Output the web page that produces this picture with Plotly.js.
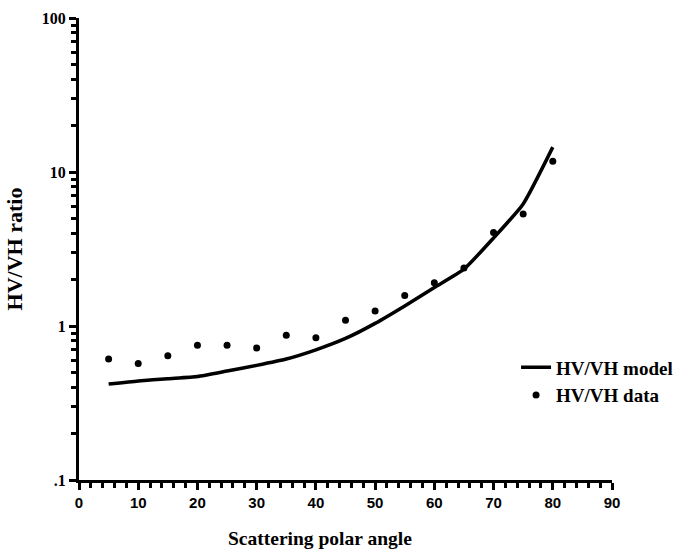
<!DOCTYPE html>
<html>
<head>
<meta charset="utf-8">
<script src="https://cdn.plot.ly/plotly-3.0.1.min.js"></script>
<style>html,body{margin:0;padding:0;background:#fff;}#chart{width:688px;height:552px;}</style>
</head>
<body>
<div id="chart"></div>
<script>
// Data
const modelAngle = [5, 10, 15, 20, 25, 30, 35, 40, 45, 50, 55, 60, 65, 70, 75, 80];
const modelRatio = [0.42, 0.44, 0.455, 0.47, 0.51, 0.555, 0.61, 0.70, 0.83, 1.04, 1.35, 1.78, 2.34, 3.73, 6.2, 14.5];
const dataAngle = [5, 10, 15, 20, 25, 30, 35, 40, 45, 50, 55, 60, 65, 70, 75, 80];
const dataRatio = [0.61, 0.57, 0.64, 0.75, 0.75, 0.72, 0.87, 0.84, 1.09, 1.25, 1.58, 1.91, 2.38, 4.05, 5.34, 11.75];
const yTickVals = [0.1, 1, 10, 100];
const yTickText = [".1", "1", "10", "100"];
const yMinorVals = [0.2, 0.3, 0.4, 0.5, 0.6, 0.7, 0.8, 0.9, 2, 3, 4, 5, 6, 7, 8, 9, 20, 30, 40, 50, 60, 70, 80, 90];
const xTickVals = [0, 10, 20, 30, 40, 50, 60, 70, 80, 90];
const xTickText = ["0", "10", "20", "30", "40", "50", "60", "70", "80", "90"];

const serif = "Liberation Serif, Times New Roman, serif";
const sans = "Liberation Sans, Arial, sans-serif";

const traces = [
  {
    x: modelAngle, y: modelRatio, mode: "lines", name: "<b>HV/VH model</b>",
    line: {color: "#000", width: 3.5, shape: "spline", smoothing: 0.5}
  },
  {
    x: dataAngle, y: dataRatio, mode: "markers", name: "<b>HV/VH data</b>",
    marker: {color: "#000", size: 7, symbol: "circle"}
  }
];

const layout = {
  width: 688, height: 552,
  margin: {l: 79, r: 76, t: 18, b: 72, autoexpand: false},
  paper_bgcolor: "#fff", plot_bgcolor: "#fff",
  showlegend: true,
  legend: {
    x: 0.82, y: 0.285, xanchor: "left", yanchor: "top",
    font: {family: serif, size: 19, color: "#000"},
    bgcolor: "rgba(0,0,0,0)", tracegroupgap: 0, itemwidth: 30
  },
  xaxis: {
    range: [0, 90], tickvals: xTickVals, ticktext: xTickText.map(t => "<b>" + t + "</b>"),
    ticks: "outside", ticklen: 7, tickwidth: 3, automargin: false,
    tickcolor: "#000", showline: true, linecolor: "#000", linewidth: 3,
    showgrid: false, zeroline: false,
    minor: {dtick: 2, ticks: "outside", ticklen: 5, tickwidth: 3, tickcolor: "#000", showgrid: false},
    tickfont: {family: sans, size: 15, color: "#000"}
  },
  yaxis: {
    type: "log", range: [-1, 2], tickvals: yTickVals, ticktext: yTickText.map(t => "<b>" + t + "</b>"),
    ticks: "outside", ticklen: 7, tickwidth: 3, tickcolor: "#000", automargin: false,
    showline: true, linecolor: "#000", linewidth: 3, showgrid: false, zeroline: false,
    minor: {tickvals: yMinorVals, ticks: "outside", ticklen: 5, tickwidth: 3, tickcolor: "#000", showgrid: false},
    tickfont: {family: serif, size: 16, color: "#000"},
    title: {text: "<b>HV/VH ratio</b>", font: {family: serif, size: 22, color: "#000"}, standoff: 14}
  },
  annotations: [
    {
      text: "<b>Scattering polar angle</b>", xref: "paper", yref: "paper",
      x: 0.452, y: -0.1, xanchor: "center", yanchor: "top", showarrow: false,
      font: {family: serif, size: 19.5, color: "#000"}
    }
  ]
};

Plotly.newPlot("chart", traces, layout, {displayModeBar: false, staticPlot: true});
</script>
</body>
</html>
